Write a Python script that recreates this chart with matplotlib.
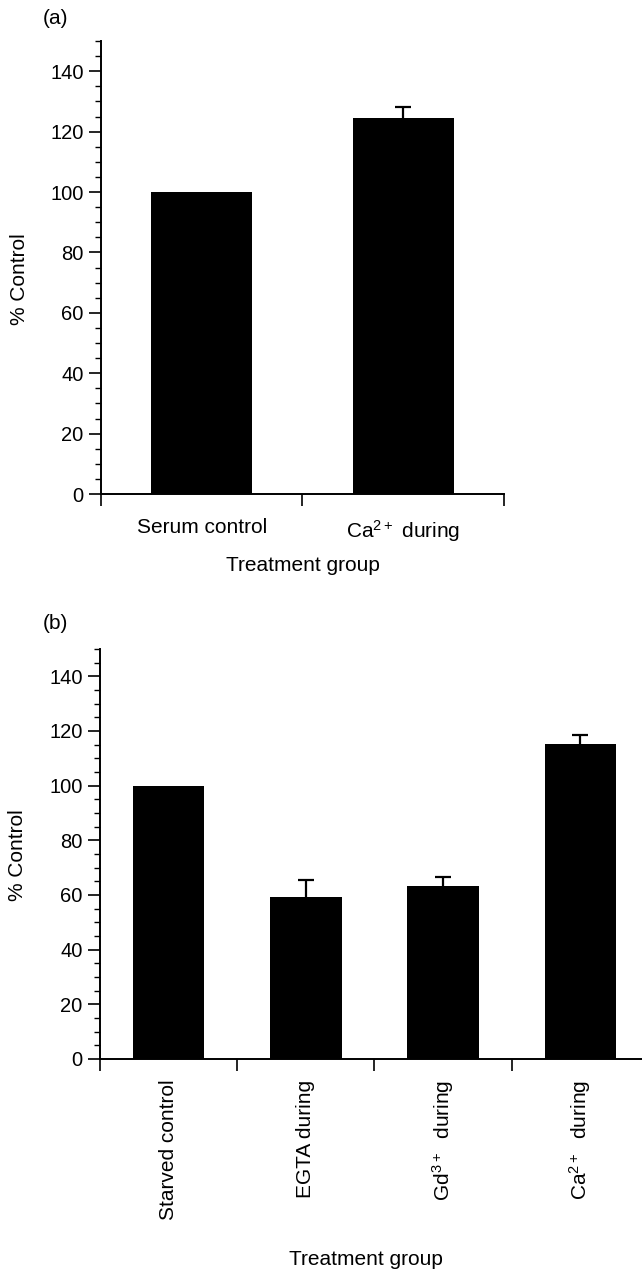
import matplotlib
matplotlib.use("Agg")
import matplotlib.pyplot as plt
import numpy as np

plt.rcParams['font.family'] = ['Liberation Sans', 'DejaVu Sans']
plt.rcParams['mathtext.default'] = 'regular'

# (a) serum-stimulated cells
groups_a = ['Serum control', 'Ca$^{2+}$ during']
pct_a = [100, 124.6]
sem_a = [0, 3.4]

# (b) serum-starved cells
groups_b = ['Starved control', 'EGTA during', 'Gd$^{3+}$  during', 'Ca$^{2+}$  during']
pct_b = [100, 59.2, 63.4, 115.1]
sem_b = [0, 6.4, 3.3, 3.3]

yticks = [0, 20, 40, 60, 80, 100, 120, 140]


def draw_panel(ax, groups, pct, sem, width, rotate):
    x = np.arange(len(groups))
    ax.bar(x, pct, width=width, color='black', zorder=2)
    has_err = np.array(sem) > 0
    _, caps, _ = ax.errorbar(x[has_err], np.array(pct)[has_err],
                             yerr=[np.zeros(has_err.sum()), np.array(sem)[has_err]],
                             fmt='none', ecolor='black', elinewidth=1.6,
                             capsize=6, capthick=1.6, zorder=1)
    # upper error only: drop the cap sitting on the bar top
    caps[0].set_visible(False)

    ax.set_ylim(0, 150)
    ax.set_yticks(yticks)
    ax.set_yticks(np.arange(0, 151, 5), minor=True)

    # category boundaries get the ticks, names sit in between
    ax.set_xticks(np.arange(-0.5, len(groups) + 0.5, 1.0))
    ax.set_xticks(x, minor=True)
    ax.set_xticklabels(groups, minor=True,
                       rotation=90 if rotate else 0, fontsize=15)

    ax.tick_params(axis='y', which='major', length=8.5, width=1.2,
                   labelsize=14.5, pad=4)
    ax.tick_params(axis='y', which='minor', length=4.5, width=1.0)
    ax.tick_params(axis='x', which='major', length=8.5, width=1.2,
                   labelbottom=False)
    ax.tick_params(axis='x', which='minor', length=0,
                   pad=15 if rotate else 17)

    for side in ['top', 'right']:
        ax.spines[side].set_visible(False)
    for side in ['left', 'bottom']:
        ax.spines[side].set_linewidth(1.4)

    ax.set_ylabel('% Control', fontsize=15)
    ax.set_xlabel('Treatment group', fontsize=15)
    ax.xaxis.label.set_va('center')
    ax.yaxis.label.set_va('center')


fig = plt.figure(figsize=(6.42, 12.71), dpi=100)

ax_a = fig.add_axes([0.1573, 0.6113, 0.6277, 0.3564])
draw_panel(ax_a, groups_a, pct_a, sem_a, 0.5, False)
ax_a.set_xlim(-0.5, 1.5)
ax_a.yaxis.set_label_coords(-0.201, 0.475)
ax_a.xaxis.set_label_coords(0.5, -0.157)

ax_b = fig.add_axes([0.1558, 0.1668, 0.8442, 0.3226])
draw_panel(ax_b, groups_b, pct_b, sem_b, 0.52, True)
ax_b.set_xlim(-0.5, 3.45)
ax_b.yaxis.set_label_coords(-0.153, 0.498)
ax_b.xaxis.set_label_coords(0.49, -0.488)

fig.text(0.067, 1 - 18 / 1271, '(a)', fontsize=15, va='center')
fig.text(0.067, 1 - 623 / 1271, '(b)', fontsize=15, va='center')

fig.savefig('out.png', dpi=100)
